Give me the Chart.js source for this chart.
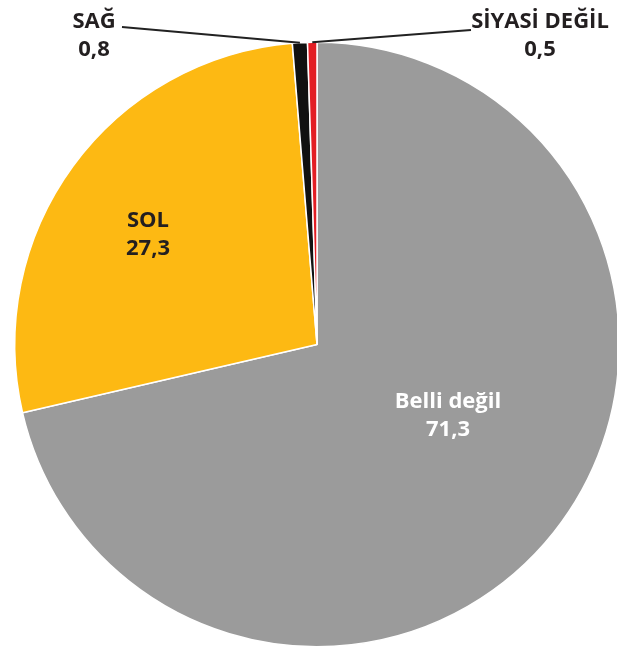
<!DOCTYPE html>
<html>
<head>
<meta charset="utf-8">
<script src="https://cdn.jsdelivr.net/npm/chart.js@4.4.0/dist/chart.umd.min.js"></script>
<style>
  html, body { margin: 0; padding: 0; background: #fff; overflow: hidden; }
  #wrap { width: 640px; height: 650px; }
</style>
</head>
<body>
<div id="wrap"><canvas id="myChart"></canvas></div>
<script>
const labels = ['Belli değil', 'SOL', 'SAĞ', 'SİYASİ DEĞİL'];
const values = [71.3, 27.3, 0.8, 0.5];
const valueLabels = ['71,3', '27,3', '0,8', '0,5'];
const colors = ['#9b9b9b', '#fdb913', '#111111', '#e31e24'];

// where each label's text sits, and its colour
const labelSpots = [
  { x: 448, y: 402, color: '#ffffff' },
  { x: 148, y: 221, color: '#231f20' },
  { x: 94,  y: 22,  color: '#231f20', lineFrom: { x: 122, y: 27 } },
  { x: 540, y: 22,  color: '#231f20', lineFrom: { x: 471, y: 30 } }
];

const pieLabels = {
  id: 'pieLabels',
  afterDraw(chart) {
    const c = chart.ctx;
    const arcs = chart.getDatasetMeta(0).data;
    c.save();
    arcs.forEach((arc, i) => {
      const s = labelSpots[i];
      if (s.lineFrom) {
        const mid = (arc.startAngle + arc.endAngle) / 2;
        const ex = arc.x + Math.cos(mid) * arc.outerRadius;
        const ey = arc.y + Math.sin(mid) * arc.outerRadius;
        c.beginPath();
        c.moveTo(s.lineFrom.x, s.lineFrom.y);
        c.lineTo(ex, ey);
        c.strokeStyle = '#222';
        c.lineWidth = 2;
        c.stroke();
      }
      c.fillStyle = s.color;
      c.font = 'bold 22px "Open Sans"';
      c.textAlign = 'center';
      c.textBaseline = 'middle';
      c.fillText(labels[i], s.x, s.y);
      c.fillText(valueLabels[i], s.x, s.y + 28);
    });
    c.restore();
  }
};

const ctx = document.getElementById('myChart');

new Chart(ctx, {
  type: 'pie',
  data: {
    labels: labels,
    datasets: [{
      data: values,
      backgroundColor: colors,
      borderColor: '#ffffff',
      borderWidth: 1.5
    }]
  },
  options: {
    responsive: true,
    maintainAspectRatio: false,
    animation: false,
    plugins: {
      legend: false,
      tooltip: { enabled: false }
    },
    layout: {
      padding: { top: 41, bottom: 2, left: 14, right: 20 }
    }
  },
  plugins: [pieLabels]
});
</script>
</body>
</html>
